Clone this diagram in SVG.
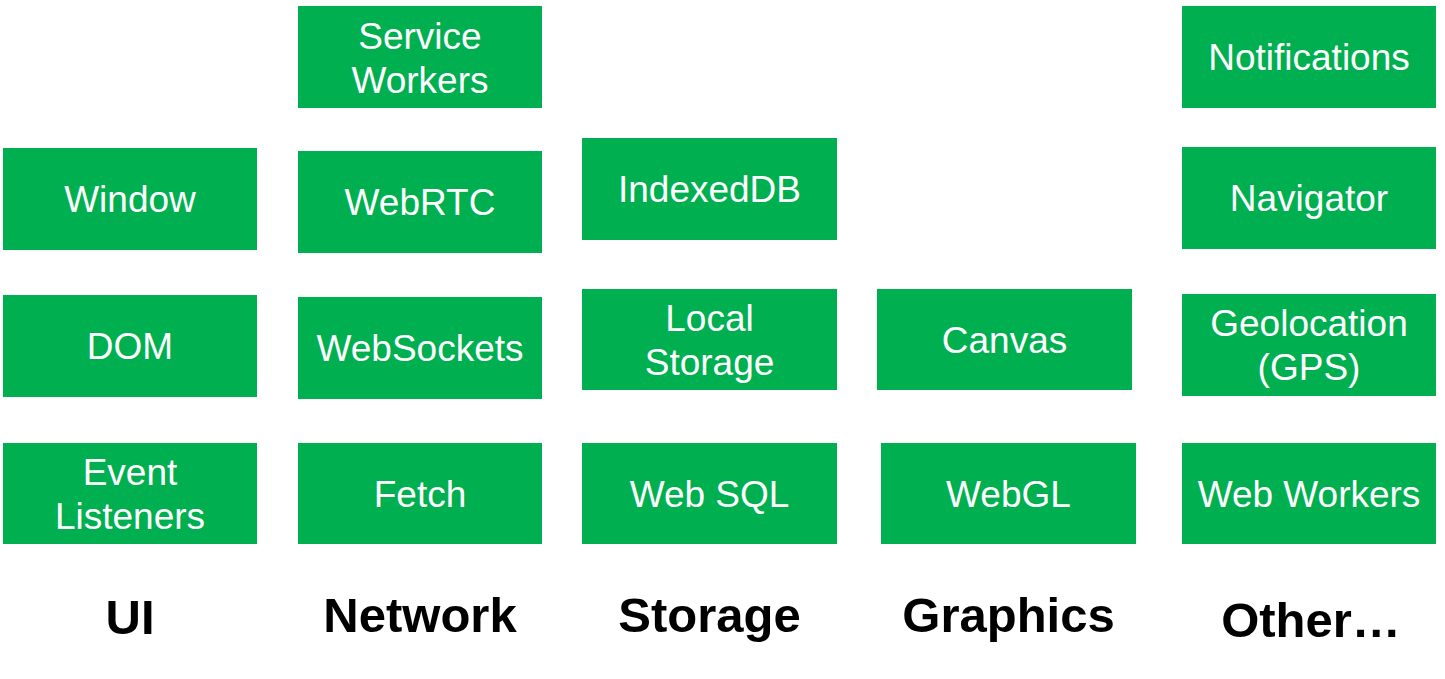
<svg xmlns="http://www.w3.org/2000/svg" width="1445" height="679" viewBox="0 0 1445 679">
<style>
.box{fill:#00B050;}
.t{font-family:"Liberation Sans",Arial,sans-serif;font-size:37px;fill:#FFFFFF;text-anchor:middle;}
.h{font-family:"Liberation Sans",Arial,sans-serif;font-size:49px;font-weight:bold;fill:#000000;text-anchor:middle;}
</style>
<rect width="1445" height="679" fill="#FFFFFF"/>
<g id="connectors"></g>
<g id="service-workers"><rect class="box" x="298" y="6" width="244" height="102"/><text class="t" x="420" y="49">Service</text><text class="t" x="420" y="93">Workers</text></g>
<g id="window"><rect class="box" x="3" y="148" width="254" height="102"/><text class="t" x="130" y="212">Window</text></g>
<g id="webrtc"><rect class="box" x="298" y="151" width="244" height="102"/><text class="t" x="420" y="215">WebRTC</text></g>
<g id="indexeddb"><rect class="box" x="582" y="138" width="255" height="102"/><text class="t" x="709.5" y="202">IndexedDB</text></g>
<g id="notifications"><rect class="box" x="1182" y="6" width="254" height="102"/><text class="t" x="1309" y="70">Notifications</text></g>
<g id="navigator"><rect class="box" x="1182" y="147" width="254" height="102"/><text class="t" x="1309" y="211">Navigator</text></g>
<g id="dom"><rect class="box" x="3" y="295" width="254" height="102"/><text class="t" x="130" y="359">DOM</text></g>
<g id="websockets"><rect class="box" x="298" y="297" width="244" height="102"/><text class="t" x="420" y="361">WebSockets</text></g>
<g id="local-storage"><rect class="box" x="582" y="289" width="255" height="101"/><text class="t" x="709.5" y="331">Local</text><text class="t" x="709.5" y="375">Storage</text></g>
<g id="canvas"><rect class="box" x="877" y="289" width="255" height="101"/><text class="t" x="1004.5" y="353">Canvas</text></g>
<g id="geolocation"><rect class="box" x="1182" y="294" width="254" height="102"/><text class="t" x="1309" y="336">Geolocation</text><text class="t" x="1309" y="380">(GPS)</text></g>
<g id="event-listeners"><rect class="box" x="3" y="443" width="254" height="101"/><text class="t" x="130" y="485">Event</text><text class="t" x="130" y="529">Listeners</text></g>
<g id="fetch"><rect class="box" x="298" y="443" width="244" height="101"/><text class="t" x="420" y="507">Fetch</text></g>
<g id="web-sql"><rect class="box" x="582" y="443" width="255" height="101"/><text class="t" x="709.5" y="507">Web SQL</text></g>
<g id="webgl"><rect class="box" x="881" y="443" width="255" height="101"/><text class="t" x="1008.5" y="507">WebGL</text></g>
<g id="web-workers"><rect class="box" x="1182" y="443" width="254" height="101"/><text class="t" x="1309" y="507">Web Workers</text></g>
<g id="labels">
<text class="h" x="130" y="634">UI</text>
<text class="h" x="420" y="632">Network</text>
<text class="h" x="709.5" y="632">Storage</text>
<text class="h" x="1008.5" y="632">Graphics</text>
<text class="h" x="1311" y="637">Other…</text>
</g>
</svg>
